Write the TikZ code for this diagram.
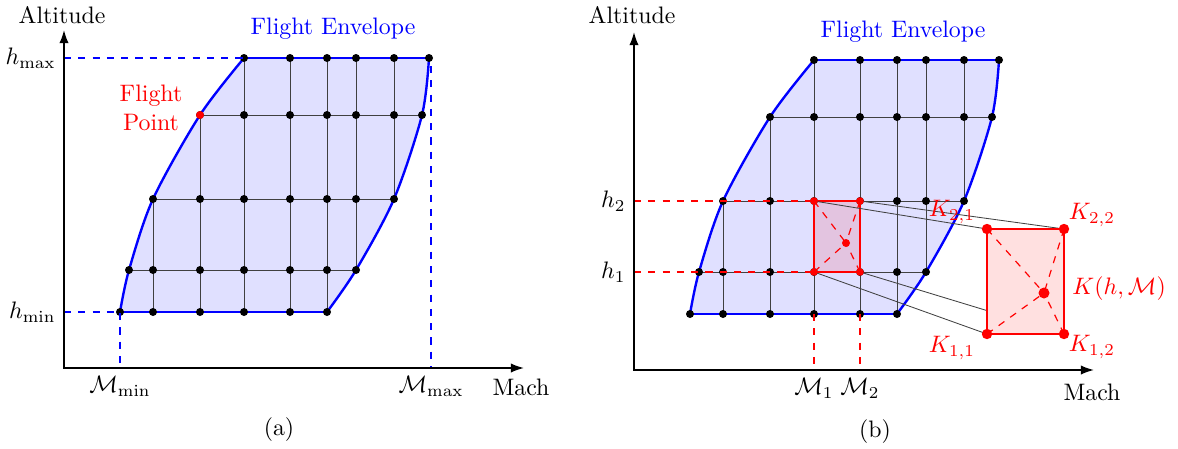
\documentclass[tikz,border=0pt]{standalone}
\usepackage{amsmath,amssymb}
\usetikzlibrary{arrows.meta,positioning,calc}

% flight envelope with its grid; axes origin at (0,0), units in px
\newcommand{\envelope}{%
  \fill[envfill] plot[smooth] coordinates {(56,56) (65,98) (89,169) (136,253) (180,310)}
    -- plot[smooth] coordinates {(365,310) (358,253) (330,169) (292,98) (263,56)} -- cycle;
  \foreach \x/\ya/\yb in {89/56/169,136/56/253,180/56/310,226/56/310,263/56/310,292/98/310,330/169/310}
    \draw[gridline] (\x,\ya)--(\x,\yb);
  \foreach \y/\xa/\xb in {56/56/263,98/65/292,169/89/330,253/136/358,310/180/365}
    \draw[gridline] (\xa,\y)--(\xb,\y);
  \draw[envline] plot[smooth] coordinates {(56,56) (65,98) (89,169) (136,253) (180,310)};
  \draw[envline] plot[smooth] coordinates {(263,56) (292,98) (330,169) (358,253) (365,310)};
  \draw[envline] (56,56)--(263,56) (180,310)--(365,310);
  \foreach \y/\xs in {56/{56,89,136,180,226,263},98/{65,89,136,180,226,263,292},
      169/{89,136,180,226,263,292,330},253/{136,180,226,263,292,330,358},310/{180,226,263,292,330,365}}
    \foreach \x in \xs \fill[black] (\x,\y) circle[radius=4];
}

\begin{document}
\begin{tikzpicture}[x=0.42pt,y=0.42pt,>={Latex[length=5.5pt,width=3.9pt]},
envfill/.style={fill=blue!12},
envline/.style={blue,line width=1pt},
gridline/.style={black!75,line width=0.4pt},
axis/.style={black,line width=0.7pt,<->},
guideblue/.style={blue,dashed,line width=0.6pt},
guidered/.style={red,dashed,line width=0.5pt},
mapline/.style={black!75,line width=0.35pt},
cellbox/.style={red,line width=0.8pt},
diag/.style={red,dashed,line width=0.5pt}]
\useasboundingbox (0,0) rectangle (1178,448);

% (a)
\begin{scope}[shift={(64,80)}]
\envelope
\draw[guideblue] (0,310)--(180,310);
\draw[guideblue] (0,56)--(56,56)--(56,0);
\draw[guideblue] (367,302)--(367,0);
\fill[red] (136,253) circle[radius=4];
\draw[axis] (0,338)--(0,0)--(460,0);
\node[left] (hmax) at (0,310) {$h_{\max}$};
\node[left] (hmin) at (0,56) {$h_{\min}$};
\node[below] (mmin) at (56,0) {$\mathcal{M}_{\min}$};
\node[below] (mmax) at (367,0) {$\mathcal{M}_{\max}$};
\node (alta) at (-2,353) {Altitude};
\node (macha) at (457,-19) {Mach};
\node[blue] (enva) at (269,339) {Flight Envelope};
\node[red,align=center] (fpoint) at (87,260) {Flight\\Point};
\node (capa) at (215,-62) {(a)};
\end{scope}

% (b)
\begin{scope}[shift={(634,78)}]
\envelope
\coordinate (c11) at (180,98);
\coordinate (c12) at (226,98);
\coordinate (c21) at (180,169);
\coordinate (c22) at (226,169);
\coordinate (cp) at (212,127);
\coordinate (k11) at (353,36);
\coordinate (k12) at (430,36);
\coordinate (k21) at (353,141);
\coordinate (k22) at (430,141);
\coordinate (kp) at (410,77);
\fill[red,opacity=0.12] (c11) rectangle (c22);
\draw[guidered] (0,169)--(c21);
\draw[guidered] (0,98)--(c11);
\draw[guidered] (180,56)--(180,0);
\draw[guidered] (226,56)--(226,0);
\draw[cellbox] (c11) rectangle (c22);
\foreach \k in {c11,c12,c21,c22} \draw[diag] (\k)--(cp);
\draw[mapline] (c11)--(k11) (c12)--(k12) (c21)--(k21) (c22)--(k22);
\fill[red!12] (k11) rectangle (k22);
\draw[cellbox,line width=1pt] (k11) rectangle (k22);
\foreach \k in {k11,k12,k21,k22} \draw[diag] (\k)--(kp);
\foreach \k in {c11,c12,c21,c22} \fill[red] (\k) circle[radius=3.8];
\fill[red] (cp) circle[radius=4];
\foreach \k in {k11,k12,k21,k22} \fill[red] (\k) circle[radius=5.2];
\fill[red] (kp) circle[radius=5.5];
\draw[axis] (0,338)--(0,0)--(460,0);
\node[left] (htwo) at (0,169) {$h_2$};
\node[left] (hone) at (0,98) {$h_1$};
\node[below] (mone) at (180,0) {$\mathcal{M}_1$};
\node[below] (mtwo) at (226,0) {$\mathcal{M}_2$};
\node (altb) at (-2,355) {Altitude};
\node (machb) at (458,-22) {Mach};
\node[blue] (envb) at (269,338) {Flight Envelope};
\node[red] (lk21) at (318,158) {$K_{2,1}$};
\node[red] (lk22) at (458,155) {$K_{2,2}$};
\node[red] (lk11) at (318,22) {$K_{1,1}$};
\node[red] (lk12) at (458,23) {$K_{1,2}$};
\node[red,right] (lkhm) at (430,81) {$K(h,\mathcal{M})$};
\node (capb) at (241,-62) {(b)};
\end{scope}
\end{tikzpicture}
\end{document}
